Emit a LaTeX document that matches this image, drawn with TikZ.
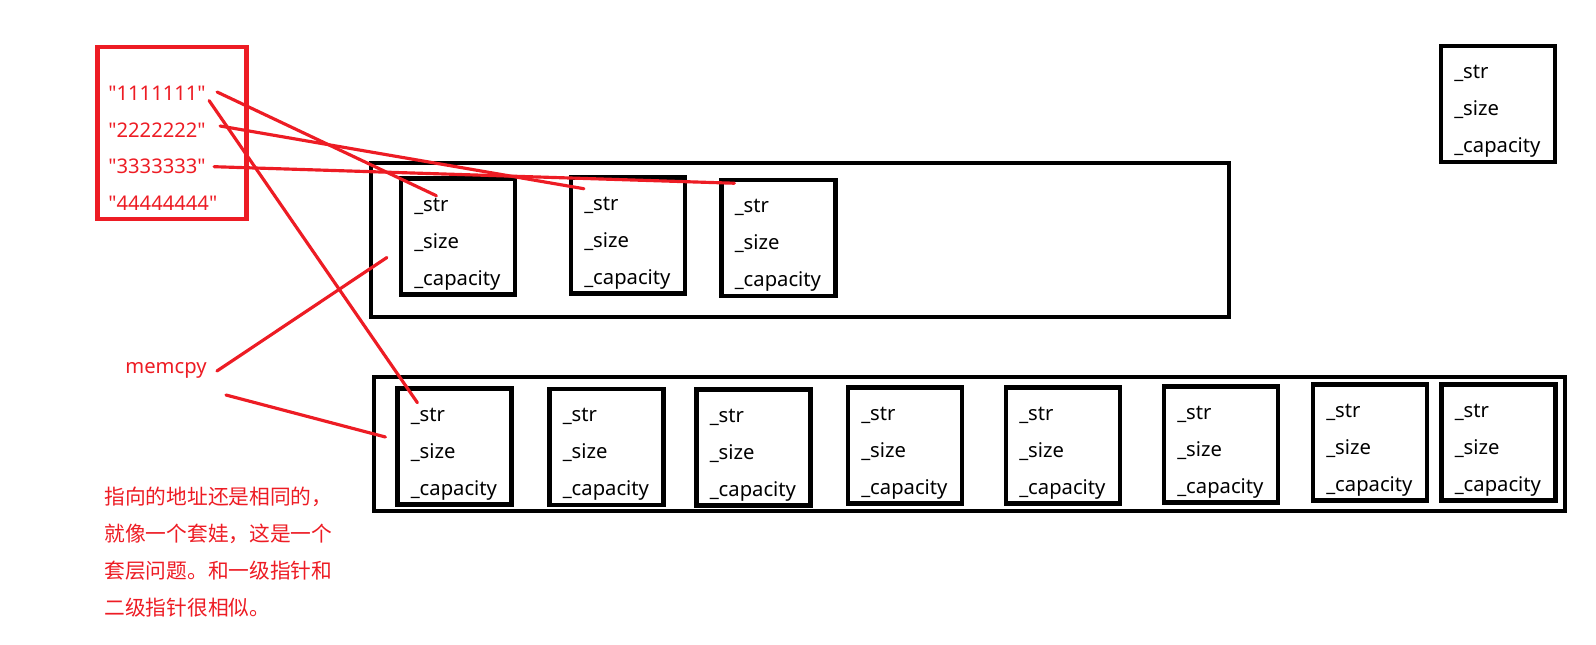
\documentclass[tikz,border=0pt]{standalone}
\usepackage{fontspec}
\setmainfont{Noto Sans}[Ligatures=TeXOff]
\newfontfamily\cjk{Noto Sans CJK SC}
\usetikzlibrary{calc}
\definecolor{inkRed}{RGB}{237,28,36}

\begin{document}
\begin{tikzpicture}[x=0.02cm,y=-0.02cm,
  obj/.style={rectangle,draw=black,line width=2.4pt,minimum width=2.28cm,
              minimum height=2.32cm,inner sep=0pt},
  holder/.style={rectangle,draw=black,line width=2.4pt,inner sep=0pt},
  fld/.style={anchor=base west,inner sep=0pt,font=\fontsize{11.5}{13}\selectfont},
  strv/.style={anchor=west,inner sep=0pt,text=inkRed,font=\fontsize{11.5}{13}\selectfont},
  wire/.style={draw=inkRed,line width=1.8pt,line cap=round}
]
  \useasboundingbox (0,0) rectangle (1596,645);

  % containers
  \node[holder,minimum width=17.16cm,minimum height=3.08cm] (vtop) at (800,240) {};
  \node[holder,minimum width=23.82cm,minimum height=2.68cm] (vbot) at (969.5,444) {};
  \node[rectangle,draw=inkRed,line width=2.3pt,minimum width=2.98cm,
        minimum height=3.44cm] (pool) at (172,133.4) {};

  % string objects
  \foreach \n/\x/\y in {t1/458/236.5, t2/628/235.5, t3/778.5/238, r/1498/104,
      b1/454.5/446.5, b2/606.5/446.7, b3/753.5/447.5, b4/905/445.5,
      b5/1063/445.5, b6/1221/444.5, b7/1370/442.5, b8/1498.5/442.5} {
    \node[obj] (\n) at (\x,\y) {};
    \node[fld] (\n-str)  at ($(\n.north west)+(15,35)$)  {\_str};
    \node[fld] (\n-size) at ($(\n.north west)+(15,72)$)  {\_size};
    \node[fld] (\n-cap)  at ($(\n.north west)+(15,109)$) {\_capacity};
  }

  % literals
  \node[strv] (s1) at (108,93)    {"1111111"};
  \node[strv] (s2) at (108,130)   {"2222222"};
  \node[strv] (s3) at (108,166.7) {"3333333"};
  \node[strv] (s4) at (108,203.3) {"44444444"};

  \node[text=inkRed,inner sep=0pt,font=\fontsize{11.5}{13}\selectfont] (mc) at (166,370) {memcpy};
  \node[anchor=north west,inner sep=0pt,align=left,text=inkRed,
        font=\cjk\fontsize{11.8}{21}\selectfont] (note) at (104,487)
    {指向的地址还是相同的，\\就像一个套娃，这是一个\\套层问题。和一级指针和\\二级指针很相似。};

  \draw[wire] ($(s1.east)+(11,-1)$) -- ($(t1-str.north)+(5,-2)$);
  \draw[wire] ($(s1.south east)+(3,0)$) -- ($(b1-str.north west)+(7,-5)$);
  \draw[wire] ($(s2.east)+(14,-4)$) -- ($(t2-str.north west)+(0,-8)$);
  \draw[wire] ($(s3.east)+(8,0)$) -- ($(t3-str.north west)+(0,-16)$);
  \draw[wire] ($(mc.east)+(10,1)$) -- ($(t1.west)+(-12,21)$);
  \draw[wire] ($(mc.east)+(19,25)$) -- ($(b1.west)+(-10,-9.5)$);
\end{tikzpicture}
\end{document}
